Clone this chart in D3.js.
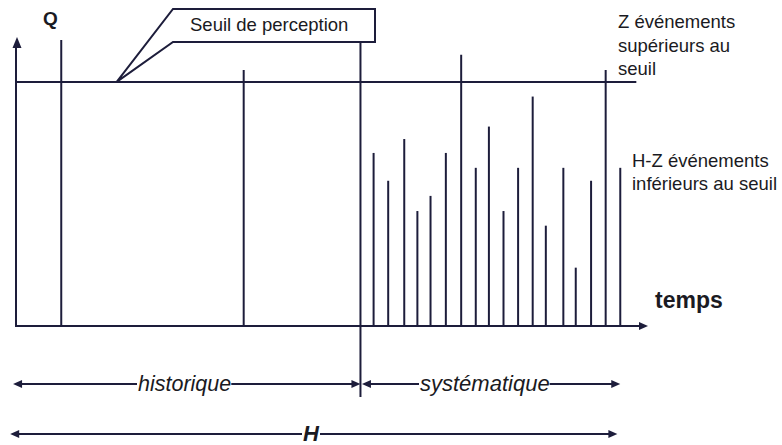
<!DOCTYPE html>
<html>
<head>
<meta charset="utf-8">
<script src="https://cdnjs.cloudflare.com/ajax/libs/d3/7.8.5/d3.min.js"></script>
<style>
    body { margin: 0; background: #fff; }
    svg { display: block; }
    .ink { stroke: #1d1d3b; stroke-width: 2; fill: none; }
    .head { fill: #1d1d3b; stroke: none; }
    text { font-family: "Liberation Sans", Arial, sans-serif; fill: #1a1a22; }
</style>
</head>
<body>
<svg id="scene" width="782" height="445"></svg>
<script>
"use strict";

// time in years from origin, Q with the perception threshold set to 100
var historic_years = [3.1, 15.6];
var historic_q = [117.2, 104.9];

var systematic_years = [24.5, 25.5, 26.6, 27.5, 28.4, 29.45, 30.5, 31.5, 32.4,
    33.4, 34.4, 35.4, 36.3, 37.5, 38.35, 39.4, 40.4, 41.4];
var systematic_q = [70.9, 59.5, 76.6, 47.1, 53.3, 70.9, 111.1, 64.8, 81.7,
    47.1, 64.8, 94.0, 41.1, 64.8, 23.9, 59.5, 104.9, 64.8];

var threshold_q = 100;
var split_year = 23.6;
var period_labels = ["historique", "systématique"];
var period_bounds = [[-0.2, split_year], [split_year + 0.1, 41.4]];
var total_label = "H";
var total_bounds = [-0.4, 41.2];

var upper_text = ["Z événements", "supérieurs au", "seuil"];
var lower_text = ["H-Z événements", "inférieurs au seuil"];


var svg = d3.select("#scene");

var x = d3.scaleLinear().domain([0, 43.3]).range([16, 648]);
var y = d3.scaleLinear().domain([0, 118.4]).range([326, 37]);


//
// helpers
//

function head(g, tx, ty, dir) {
    // filled triangle, dir: "r", "l", "u"
    var len = 9, w = 4;
    var d;
    if (dir === "r") {
        d = "M" + tx + "," + ty + "L" + (tx - len) + "," + (ty - w) + "L" + (tx - len) + "," + (ty + w) + "Z";
    } else if (dir === "l") {
        d = "M" + tx + "," + ty + "L" + (tx + len) + "," + (ty - w) + "L" + (tx + len) + "," + (ty + w) + "Z";
    } else {
        d = "M" + tx + "," + ty + "L" + (tx - w - 0.5) + "," + (ty + len + 2) + "L" + (tx + w + 0.5) + "," + (ty + len + 2) + "Z";
    }
    g.append("path").attr("class", "head").attr("d", d);
}

function span_arrow(g, x1, x2, yy, label, lx, font) {
    g.append("line").attr("class", "ink")
        .attr("x1", x1 + 4).attr("x2", x2 - 4)
        .attr("y1", yy).attr("y2", yy);
    head(g, x1, yy, "l");
    head(g, x2, yy, "r");

    var t = g.append("text")
        .attr("x", lx)
        .attr("y", yy + 7)
        .style("font-size", font.size + "px")
        .style("font-style", "italic")
        .style("font-weight", font.weight || "normal")
        .text(label);
    var bb = t.node().getBBox();
    g.insert("rect", function () { return t.node(); })
        .attr("x", bb.x - 1)
        .attr("y", yy - 4)
        .attr("width", bb.width + 1)
        .attr("height", 8)
        .attr("fill", "#fff");
}


//
// axes
//

var axes = svg.append("g");

axes.append("line").attr("class", "ink")
    .attr("x1", x(0)).attr("x2", x(0))
    .attr("y1", y(0) + 1).attr("y2", y(118.4) + 8);
head(axes, x(0) + 1, y(118.4), "u");

axes.append("line").attr("class", "ink")
    .attr("x1", x(0) - 1).attr("x2", x(43.3) - 6)
    .attr("y1", y(0)).attr("y2", y(0));
head(axes, x(43.3), y(0), "r");

axes.append("text")
    .attr("x", 43).attr("y", 25)
    .style("font-size", "19px").style("font-weight", "bold")
    .text("Q");

axes.append("text")
    .attr("x", 655).attr("y", 308)
    .style("font-size", "23px").style("font-weight", "bold")
    .text("temps");


//
// threshold and events
//

svg.append("line").attr("class", "ink")
    .attr("x1", x(0)).attr("x2", x(42.5))
    .attr("y1", y(threshold_q)).attr("y2", y(threshold_q));

var events = historic_years.map(function (t, i) {
    return { t: t, q: historic_q[i] };
}).concat(systematic_years.map(function (t, i) {
    return { t: t, q: systematic_q[i] };
}));

svg.append("g").selectAll("line")
    .data(events)
    .enter().append("line")
    .attr("class", "ink")
    .attr("x1", function (d) { return x(d.t); })
    .attr("x2", function (d) { return x(d.t); })
    .attr("y1", y(0))
    .attr("y2", function (d) { return y(d.q); });

// split between historic and systematic records
svg.append("line").attr("class", "ink")
    .attr("x1", x(split_year)).attr("x2", x(split_year))
    .attr("y1", 42).attr("y2", 397);


//
// callout
//

var tip_x = x(6.9), tip_y = y(threshold_q);
svg.append("path").attr("class", "ink")
    .attr("stroke-linejoin", "miter")
    .attr("d", "M" + tip_x + "," + tip_y + "L173,9L375,9L375,42L173,42Z");

svg.append("text")
    .attr("x", 190).attr("y", 31)
    .style("font-size", "18.5px")
    .text("Seuil de perception");


//
// side notes
//

svg.append("g").selectAll("text")
    .data(upper_text)
    .enter().append("text")
    .attr("x", 618)
    .attr("y", function (d, i) { return 28 + i * 23.5; })
    .style("font-size", "18.5px")
    .text(function (d) { return d; });

svg.append("g").selectAll("text")
    .data(lower_text)
    .enter().append("text")
    .attr("x", 632)
    .attr("y", function (d, i) { return 166.5 + i * 23.5; })
    .style("font-size", "18.5px")
    .text(function (d) { return d; });


//
// period arrows
//

var periods = svg.append("g");
span_arrow(periods, x(period_bounds[0][0]), x(period_bounds[0][1]), 384,
    period_labels[0], 138, { size: 21.5 });
span_arrow(periods, x(period_bounds[1][0]), x(period_bounds[1][1]), 384,
    period_labels[1], 420, { size: 22 });
span_arrow(periods, x(total_bounds[0]), x(total_bounds[1]), 434,
    total_label, 303, { size: 22, weight: "bold" });
</script>
</body>
</html>
